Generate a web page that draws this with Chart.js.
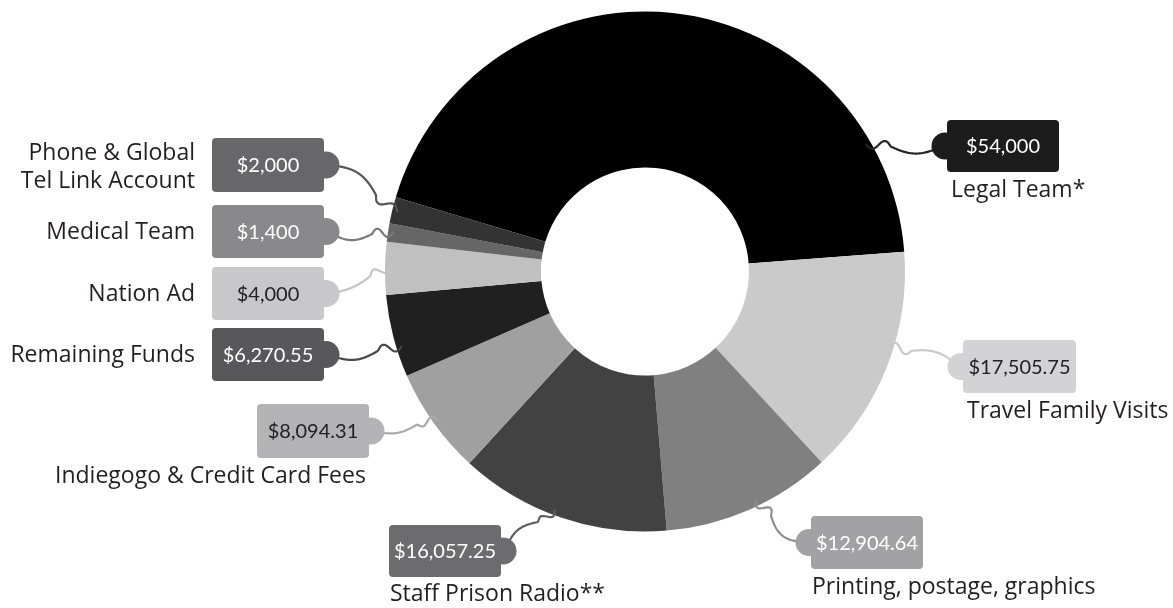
<!DOCTYPE html>
<html>
<head>
<meta charset="utf-8">
<script src="https://cdn.jsdelivr.net/npm/chart.js@4.4.0/dist/chart.umd.min.js"></script>
<style>
  html, body { margin: 0; padding: 0; background: #fff; }
  #wrap { width: 1173px; height: 608px; position: relative; }
</style>
</head>
<body>
<div id="wrap"><canvas id="budgetChart"></canvas></div>
<script>
// categories, clockwise from the big slice
const categories = [
    ['Legal Team*'],
    ['Travel Family Visits'],
    ['Printing, postage, graphics'],
    ['Staff Prison Radio**'],
    ['Indiegogo & Credit Card Fees'],
    ['Remaining Funds'],
    ['Nation Ad'],
    ['Medical Team'],
    ['Phone & Global', 'Tel Link Account']
];
const amounts = [54000, 17505.75, 12904.64, 16057.25, 8094.31, 6270.55, 4000, 1400, 2000];
const sliceColors = ['#000000', '#cacaca', '#808080', '#424242', '#a0a0a0', '#202020', '#c0c0c0', '#666666', '#333333'];

// tag layout (positions / styles only)
const tagLayout = [
    { x: 947, y: 120, w: 112, h: 52, side: 'left',  fill: '#1c1c1c', ink: '#ffffff', line: '#262626', at: 0.84, lx: 951, ly: [190], align: 'left', bow: -8, wig: 4 },
    { x: 963, y: 340, w: 113, h: 53, side: 'left',  fill: '#d3d3d5', ink: '#222222', line: '#c9c9cb', at: 0.41, lx: 967, ly: [411], align: 'left', bow: 7, wig: -4 },
    { x: 811, y: 516, w: 112, h: 53, side: 'left',  fill: '#a2a2a5', ink: '#ffffff', line: '#8e8e91', at: 0.45, lx: 812, ly: [587], align: 'left', bow: -10, wig: 4 },
    { x: 389, y: 525, w: 112, h: 52, side: 'right', fill: '#6c6c6f', ink: '#ffffff', line: '#5e5e61', at: 0.54, lx: 390, ly: [594], align: 'left', bow: -8, wig: -4 },
    { x: 257, y: 404, w: 112, h: 54, side: 'right', fill: '#b3b3b6', ink: '#222222', line: '#aaaaad', at: 0.5, lx: 55, ly: [476], align: 'left', bow: 6, wig: 4 },
    { x: 212, y: 328, w: 112, h: 53, side: 'right', fill: '#58585b', ink: '#ffffff', line: '#48484b', at: 0.35, lx: 195, ly: [355], align: 'right', bow: 8, wig: -4 },
    { x: 212, y: 267, w: 112, h: 53, side: 'right', fill: '#c8c8ca', ink: '#222222', line: '#c4c4c6', at: 0.53, lx: 195, ly: [294], align: 'right', bow: 4, wig: -4 },
    { x: 212, y: 205, w: 112, h: 53, side: 'right', fill: '#89898c', ink: '#ffffff', line: '#7a7a7d', at: 0.5, lx: 195, ly: [232], align: 'right', bow: 8, wig: -4 },
    { x: 212, y: 138, w: 112, h: 54, side: 'right', fill: '#67676a', ink: '#ffffff', line: '#555558', at: 0.5, lx: 195, ly: [153, 181], align: 'right', bow: -10, wig: 4 }
];

const labelFont = '23px "Open Sans", Lato, sans-serif';
const valueFont = '20px Lato, "Open Sans", sans-serif';

function money(v) {
    const digits = Number.isInteger(v) ? 0 : 2;
    return '$' + v.toLocaleString('en-US', { minimumFractionDigits: digits, maximumFractionDigits: digits });
}

function drawTag(ctx, t) {
    const my = t.y + t.h / 2;
    ctx.fillStyle = t.fill;
    ctx.beginPath();
    ctx.roundRect(t.x, t.y, t.w, t.h, 4);
    ctx.fill();
    ctx.beginPath();
    const bx = t.side === 'left' ? t.x - 2 : t.x + t.w + 2;
    ctx.arc(bx, my, 13.5, 0, Math.PI * 2);
    ctx.fill();
}

// gentle bend from the tag, then a small hook just before the slice
function drawConnector(ctx, sx, sy, ex, ey, t) {
    const dx = ex - sx, dy = ey - sy;
    const len = Math.hypot(dx, dy);
    const nx = -dy / len, ny = dx / len;
    ctx.strokeStyle = t.line;
    ctx.lineWidth = 2.2;
    ctx.lineCap = 'round';
    ctx.lineJoin = 'round';
    ctx.beginPath();
    for (let i = 0; i <= 80; i++) {
        const s = i / 80;
        let off = t.bow * Math.sin(Math.PI * Math.min(s / 0.72, 1));
        if (s > 0.68) off += t.wig * Math.sin(2 * Math.PI * (s - 0.68) / 0.32);
        const px = sx + dx * s + nx * off;
        const py = sy + dy * s + ny * off;
        if (i === 0) ctx.moveTo(px, py); else ctx.lineTo(px, py);
    }
    ctx.stroke();
}

const tagPlugin = {
    id: 'priceTags',
    afterDatasetsDraw(chart) {
        const ctx = chart.ctx;
        const arcs = chart.getDatasetMeta(0).data;
        ctx.save();
        arcs.forEach((arc, i) => {
            const t = tagLayout[i];
            const p = arc.getProps(['x', 'y', 'startAngle', 'endAngle', 'outerRadius'], true);
            const a = p.startAngle + (p.endAngle - p.startAngle) * t.at;
            const ex = p.x + Math.cos(a) * (p.outerRadius - 5);
            const ey = p.y + Math.sin(a) * (p.outerRadius - 5);
            const sx = t.side === 'left' ? t.x - 4 : t.x + t.w + 4;
            const sy = t.y + t.h / 2;
            drawConnector(ctx, sx, sy, ex, ey, t);
        });
        arcs.forEach((arc, i) => {
            const t = tagLayout[i];
            drawTag(ctx, t);
            ctx.fillStyle = t.ink;
            ctx.font = valueFont;
            ctx.textAlign = 'center';
            ctx.textBaseline = 'middle';
            ctx.fillText(money(amounts[i]), t.x + t.w / 2, t.y + t.h / 2 + 1);

            ctx.fillStyle = '#231f20';
            ctx.font = labelFont;
            ctx.textAlign = t.align;
            categories[i].forEach((line, j) => ctx.fillText(line, t.lx, t.ly[j]));
        });
        ctx.restore();
    }
};

const ctx = document.getElementById('budgetChart').getContext('2d');
new Chart(ctx, {
    type: 'doughnut',
    data: {
        labels: categories,
        datasets: [{
            data: amounts,
            backgroundColor: sliceColors,
            borderWidth: 0
        }]
    },
    options: {
        responsive: true,
        maintainAspectRatio: false,
        animation: false,
        cutout: '40%',
        rotation: -73.4,
        layout: { padding: { top: 11.5, bottom: 76.5, left: 385, right: 268 } },
        plugins: {
            legend: { display: false },
            tooltip: { enabled: false }
        }
    },
    plugins: [tagPlugin]
});
</script>
</body>
</html>
